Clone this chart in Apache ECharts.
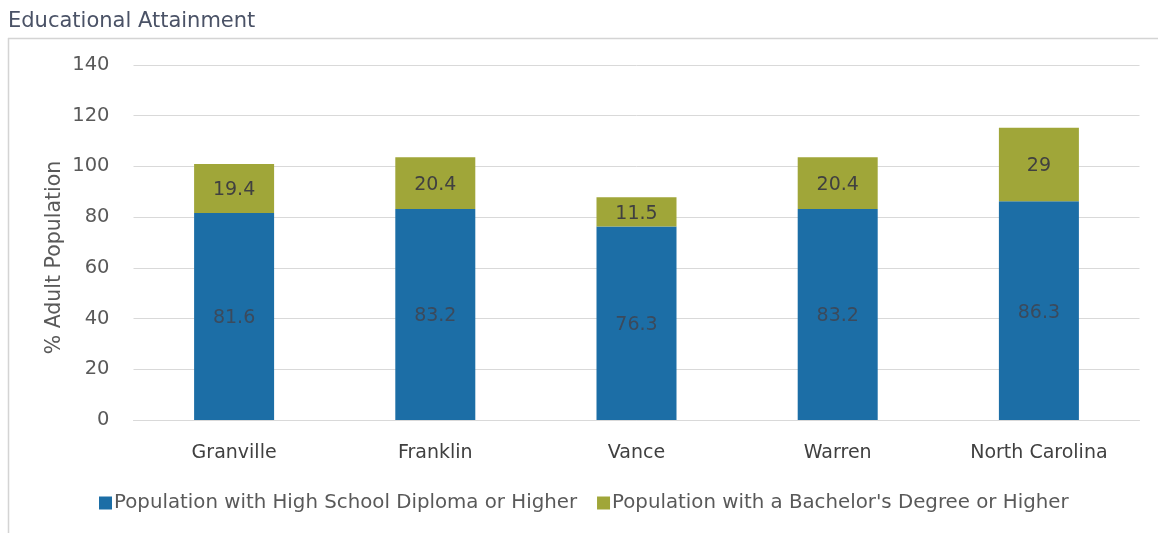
<!DOCTYPE html>
<html>
<head>
<meta charset="utf-8">
<script src="https://cdn.jsdelivr.net/npm/echarts@6/dist/echarts.min.js"></script>
<style>
  html, body { margin: 0; padding: 0; background: #ffffff; }
  #chart { width: 1158px; height: 533px; }
</style>
</head>
<body>
<div id="chart"></div>
<script>
// Educational attainment by county, % of adult population
const categories = ['Granville', 'Franklin', 'Vance', 'Warren', 'North Carolina'];
const highSchool = [81.6, 83.2, 76.3, 83.2, 86.3];
const bachelors = [19.4, 20.4, 11.5, 20.4, 29];
const seriesNames = ['Population with High School Diploma or Higher', "Population with a Bachelor's Degree or Higher"];

const FONT = '"DejaVu Sans", "Noto Sans", sans-serif';
const chart = echarts.init(document.getElementById('chart'));

chart.setOption({
  backgroundColor: '#ffffff',
  animation: false,
  textStyle: { fontFamily: FONT },
  title: {
    text: 'Educational Attainment',
    left: 3, top: 6,
    textStyle: { fontFamily: FONT, fontSize: 21, fontWeight: 'normal', color: '#4a5266' }
  },
  graphic: [
    // panel frame: top and left border
    { type: 'line', shape: { x1: 8, y1: 38.5, x2: 1158, y2: 38.5 }, style: { stroke: '#d4d4d4', lineWidth: 1.5 } },
    { type: 'line', shape: { x1: 8.5, y1: 38, x2: 8.5, y2: 533 }, style: { stroke: '#d4d4d4', lineWidth: 1.5 } }
  ],
  grid: { left: 133.5, right: 18.5, top: 65, bottom: 113 },
  legend: {
    left: 94, top: 488,
    itemWidth: 13, itemHeight: 13, itemGap: 20,
    icon: 'rect',
    textStyle: { fontFamily: FONT, fontSize: 19.8, color: '#595959', padding: [0, 0, 0, -3] },
    data: seriesNames
  },
  xAxis: {
    type: 'category',
    data: categories,
    axisLine: { lineStyle: { color: '#d9d9d9' } },
    axisTick: { show: false },
    axisLabel: { fontFamily: FONT, fontSize: 19, color: '#404040', margin: 24 }
  },
  yAxis: {
    type: 'value',
    min: 0, max: 140, interval: 20,
    name: '% Adult Population',
    nameLocation: 'middle',
    nameGap: 68,
    nameMoveOverlap: false,
    nameTextStyle: { fontFamily: FONT, fontSize: 20.5, color: '#595959', padding: [0, 30, 0, 0] },
    axisLine: { show: false },
    axisTick: { show: false },
    axisLabel: { fontFamily: FONT, fontSize: 19.5, color: '#595959', margin: 24 },
    splitLine: { lineStyle: { color: '#d9d9d9', width: 1 } }
  },
  series: [
    {
      name: seriesNames[0],
      type: 'bar',
      stack: 'total',
      barWidth: 80,
      data: highSchool,
      itemStyle: { color: '#1c6ea6' },
      label: { show: true, position: 'inside', offset: [0, 2], fontFamily: FONT, fontSize: 19, color: '#3b4a5c' }
    },
    {
      name: seriesNames[1],
      type: 'bar',
      stack: 'total',
      barWidth: 80,
      data: bachelors,
      itemStyle: { color: '#a0a639' },
      label: { show: true, position: 'inside', offset: [0, 2], fontFamily: FONT, fontSize: 19, color: '#404040' }
    }
  ]
});
</script>
</body>
</html>
